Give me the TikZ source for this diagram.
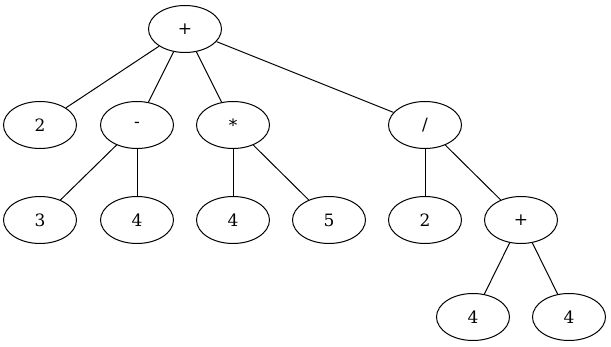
\documentclass[tikz,border=0pt]{standalone}
\usepackage{fontspec}
\setmainfont{DejaVu Serif}
\usetikzlibrary{shapes.geometric}
\begin{document}
\begin{tikzpicture}[x=1pt,y=-1pt,
  tnode/.style={draw,ellipse,line width=1pt,minimum width=73pt,minimum height=47pt,inner sep=0pt,font=\fontsize{17}{20}\selectfont},
  tedge/.style={line width=1pt}]
\useasboundingbox (0,0) rectangle (611,347);
\node[tnode] (r) at (185,29) {+};
\node[tnode] (a) at (40,125) {2};
\node[tnode] (m) at (137,125) {-};
\node[tnode] (t) at (233,125) {*};
\node[tnode] (d) at (425,125) {/};
\node[tnode] (m1) at (40,220) {3};
\node[tnode] (m2) at (137,220) {4};
\node[tnode] (t1) at (233,220) {4};
\node[tnode] (t2) at (329,220) {5};
\node[tnode] (d1) at (425,220) {2};
\node[tnode] (p) at (521,220) {+};
\node[tnode] (p1) at (473,317) {4};
\node[tnode] (p2) at (569,317) {4};
\draw[tedge] (r) -- (a);
\draw[tedge] (r) -- (m);
\draw[tedge] (r) -- (t);
\draw[tedge] (r) -- (d);
\draw[tedge] (m) -- (m1);
\draw[tedge] (m) -- (m2);
\draw[tedge] (t) -- (t1);
\draw[tedge] (t) -- (t2);
\draw[tedge] (d) -- (d1);
\draw[tedge] (d) -- (p);
\draw[tedge] (p) -- (p1);
\draw[tedge] (p) -- (p2);
\end{tikzpicture}
\end{document}
